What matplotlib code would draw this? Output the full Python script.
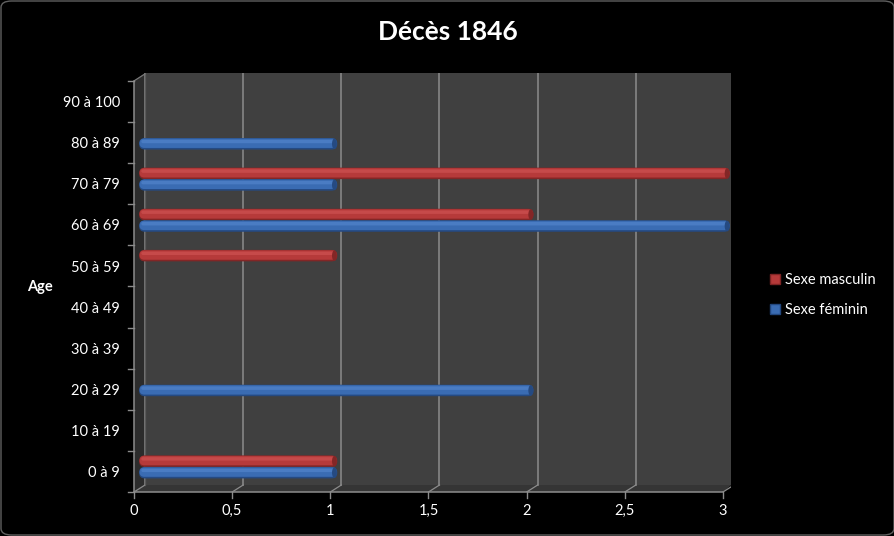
import matplotlib
matplotlib.use("Agg")
import matplotlib.pyplot as plt
from matplotlib.patches import Polygon, FancyBboxPatch, Rectangle, Ellipse, Patch
import numpy as np

plt.rcParams['font.family'] = ['Lato', 'DejaVu Sans']

categories = ["0 à 9", "10 à 19", "20 à 29", "30 à 39", "40 à 49",
              "50 à 59", "60 à 69", "70 à 79", "80 à 89", "90 à 100"]
masculin = [1, 0, 0, 0, 0, 1, 2, 3, 0, 0]
feminin = [1, 0, 2, 0, 0, 0, 3, 1, 1, 0]
xticks = [0, 0.5, 1, 1.5, 2, 2.5, 3]
xticklabels = ["0", "0,5", "1", "1,5", "2", "2,5", "3"]
title = "Décès 1846"
ylabel = "Age"
series_names = ["Sexe masculin", "Sexe féminin"]

W, H = 895, 536
fig = plt.figure(figsize=(W / 100, H / 100), dpi=100, facecolor="black")

left_px, right_px, top_px, bottom_px = 134, 731, 73, 492
ax = fig.add_axes([left_px / W, 1 - bottom_px / H, (right_px - left_px) / W,
                   (bottom_px - top_px) / H])
ax.set_facecolor("black")
xscale = 196.33
ypx = 41.11
xmax = (right_px - left_px) / xscale
ymin = -0.5
ymax = ymin + (bottom_px - top_px) / ypx
ax.set_xlim(0, xmax)
ax.set_ylim(ymin, ymax)
for s in ax.spines.values():
    s.set_visible(False)
ax.set_xticks([])
ax.set_yticks([])

dx = 11 / xscale
dy = 7 / ypx
n = len(categories)
ytop = n - 0.5

ax.add_patch(Rectangle((dx, ymin + dy), xmax - dx, ymax - (ymin + dy),
                       facecolor="#404040", edgecolor="none", zorder=0))
ax.add_patch(Polygon([(0, ymin), (dx, ymin + dy), (dx, ymax), (0, ytop)],
                     closed=True, facecolor="#2c2c2c", edgecolor="none", zorder=0.5))
ax.add_patch(Polygon([(0, ymin), (3, ymin), (3 + dx * 0.75, ymin + dy), (dx, ymin + dy)],
                     closed=True, facecolor="#353535", edgecolor="none", zorder=0.5))

for t in xticks:
    ax.plot([t + dx, t + dx], [ymin + dy, ymax], color="#8c8c8c", lw=1.1, zorder=1)
    ax.plot([t, t + dx], [ymin, ymin + dy], color="#8c8c8c", lw=0.9, zorder=1)
ax.plot([dx, dx], [ymin + dy, ymax], color="#5a5a5a", lw=0.9, zorder=1)
ax.plot([0, dx], [ytop, ytop + dy], color="#777777", lw=0.9, zorder=1)

ax.plot([0, 0], [ymin, ytop], color="#8c8c8c", lw=1.1, zorder=3, clip_on=False)
ax.plot([0, 3], [ymin, ymin], color="#8c8c8c", lw=1.1, zorder=3, clip_on=False)
tl_x = 6 / xscale
for k in range(n + 1):
    ax.plot([-tl_x, 0], [k - 0.5, k - 0.5], color="#8c8c8c", lw=1.0, clip_on=False, zorder=3)
tl_y = 6 / ypx
for t in xticks:
    ax.plot([t, t], [ymin - tl_y, ymin], color="#8c8c8c", lw=1.0, clip_on=False, zorder=3)

for i, c in enumerate(categories):
    ax.text(-14 / xscale, i - 0.04, c, color="white", fontsize=10.5, ha="right", va="center")
for t, lab in zip(xticks, xticklabels):
    ax.text(t, ymin - 19 / ypx, lab, color="white", fontsize=10.5, ha="center", va="center")

bh = 0.28
x0 = 5 / xscale
extra = 2 / xscale
rx = (bh / 2) * ypx / xscale


def draw_bars(vals, yoff, base, light, dark):
    for i, v in enumerate(vals):
        if v <= 0:
            continue
        yc = i + yoff
        L = v + extra
        ax.add_patch(FancyBboxPatch((x0, yc - bh / 2), L, bh,
                                    boxstyle=f"round,pad=0,rounding_size={rx}",
                                    mutation_aspect=(bh / 2) / rx,
                                    facecolor=dark, edgecolor="none", zorder=4))
        h2 = bh * 0.82
        r2 = rx * 0.82
        ax.add_patch(FancyBboxPatch((x0 + rx * 0.1, yc - bh / 2 + bh * 0.14), L - rx * 0.2, h2,
                                    boxstyle=f"round,pad=0,rounding_size={r2}",
                                    mutation_aspect=(h2 / 2) / r2,
                                    facecolor=base, edgecolor="none", zorder=5))
        h3 = bh * 0.3
        r3 = rx * 0.3
        ax.add_patch(FancyBboxPatch((x0 + rx * 0.4, yc + bh * 0.05), L - rx * 0.9, h3,
                                    boxstyle=f"round,pad=0,rounding_size={r3}",
                                    mutation_aspect=(h3 / 2) / r3,
                                    facecolor=light, edgecolor="none", zorder=6))
        ax.add_patch(Ellipse((x0 + L - rx * 0.5, yc), rx * 0.85, bh * 0.92,
                             facecolor=dark, edgecolor="none", zorder=7))


draw_bars(masculin, 0.25, "#b63a3a", "#c64a4a", "#832626")
draw_bars(feminin, -0.03, "#3a6cb3", "#4a7cc3", "#254a82")

handles = [Patch(facecolor="#b63a3a", edgecolor="#7e2424"),
           Patch(facecolor="#3a6cb3", edgecolor="#22477e")]
fig.legend(handles, series_names, loc="upper left",
           bbox_to_anchor=(757 / W, 1 - 260 / H), frameon=False,
           labelcolor="white", fontsize=10.5, handlelength=0.7,
           handleheight=0.7, handletextpad=0.35, labelspacing=1.1)

fig.text(448 / W, 1 - 32 / H, title, color="white", fontsize=19, fontweight="bold",
         ha="center", va="center")
fig.text(40 / W, 1 - 287 / H, ylabel, color="white", fontsize=10.5, fontweight="bold",
         ha="center", va="center")

fig.patches.append(FancyBboxPatch((1 / W, 1 / H), 1 - 2 / W, 1 - 2 / H,
                                  boxstyle="round,pad=0,rounding_size=0.012",
                                  transform=fig.transFigure, facecolor="none",
                                  edgecolor="#606060", linewidth=1))

fig.savefig("out.png", dpi=100, facecolor="black")
